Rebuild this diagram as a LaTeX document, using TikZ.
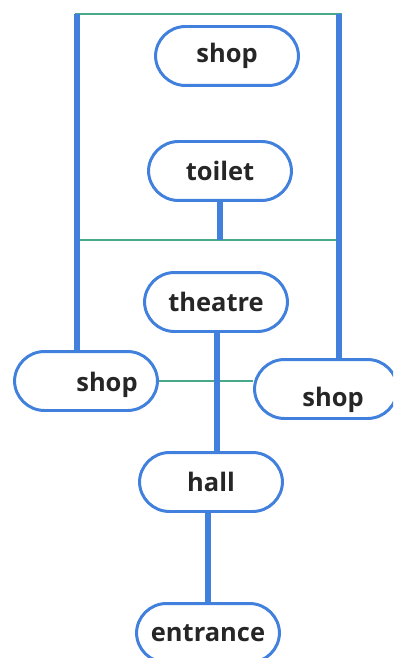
\documentclass[tikz,border=0pt]{standalone}
\usepackage{fontspec}
\setmainfont{Open Sans}
\usetikzlibrary{positioning,calc}

\definecolor{roomblue}{RGB}{66,128,222}
\definecolor{doorgreen}{RGB}{72,168,138}

\begin{document}
\begin{tikzpicture}[x=0.02cm, y=-0.02cm]
    \tikzstyle{room}=[draw=roomblue, line width=1.7pt, rounded corners=0.6cm, minimum width=2.86cm, minimum height=1.18cm, font=\bfseries\fontsize{14.5}{16}\selectfont, text=black!85, inner sep=0pt];
    \tikzstyle{lbl}=[font=\bfseries\fontsize{14.5}{16}\selectfont, text=black!85];
    \tikzstyle{link}=[roomblue, line width=3.4pt];
    \tikzstyle{wall}=[doorgreen, line width=1.5pt];

    \clip (0,0) rectangle (393,658);

    % rooms
    \node[room] (shopT) at (227,56) {shop};
    \node[room] (toilet) at (220,171) {toilet};
    \node[room] (theatre) at (216,302) {theatre};
    \node[room, label={[lbl, xshift=0.42cm, yshift=-0.08cm]center:shop}] (shopL) at (86,381) {};
    \node[room, label={[lbl, xshift=0.14cm, yshift=-0.22cm]center:shop}] (shopR) at (326,389) {};
    \node[room] (hall) at (211,482) {hall};
    \node[room] (entrance) at (208,633) {entrance};

    \coordinate (tl) at (75,14);
    \coordinate (tr) at (342,14);
    \coordinate (ml) at (77,240);
    \coordinate (mr) at (336,240);

    % green lines
    \draw[wall] (tl) -- (tr);
    \draw[wall] (ml) -- (mr);
    \draw[wall] (shopL.east) -- (shopR.west |- shopL.east);

    % blue connections
    \draw[link] (77,14) -- (shopL.north -| 77,0);
    \draw[link] (339,14) -- (shopR.north -| 339,0);
    \draw[link] (toilet.south) -- (toilet.south |- ml);
    \draw[link] ($(theatre.south)+(1,0)$) -- ($(theatre.south |- hall.north)+(1,0)$);
    \draw[link] (entrance.north) -- (entrance.north |- hall.south);
\end{tikzpicture}
\end{document}
